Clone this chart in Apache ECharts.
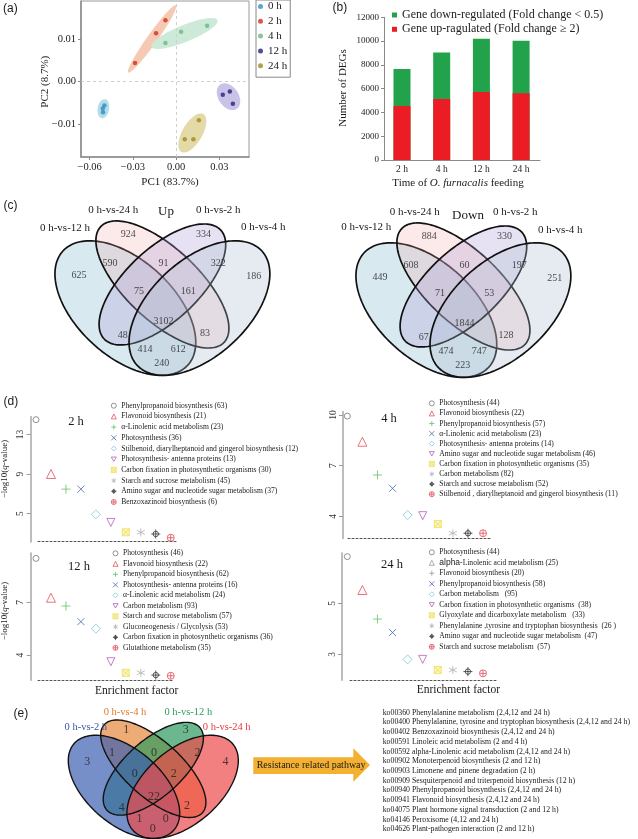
<!DOCTYPE html>
<html><head><meta charset="utf-8">
<script src="https://cdn.jsdelivr.net/npm/echarts@6/dist/echarts.min.js"></script>
<style>html,body{margin:0;padding:0;background:#fff}#c{width:638px;height:839px}</style>
</head><body><div id="c"></div>
<script>
// ---------------- DATA ----------------
// (a) PCA scores
const pcaGroups = ['0 h', '2 h', '4 h', '12 h', '24 h'];
const pcaPC1 = [[-0.0498, -0.0509, -0.0507], [-0.0285, -0.0139, -0.0074], [-0.0074, 0.0035, 0.0215], [0.0324, 0.0373, 0.0394], [0.0060, 0.0120, 0.0158]];
const pcaPC2 = [[-0.0056, -0.0063, -0.0072], [0.0044, 0.0114, 0.0145], [0.0091, 0.0118, 0.0132], [-0.0031, -0.0023, -0.0052], [-0.0136, -0.0136, -0.0091]];
const pcaXTicks = [-0.06, -0.03, 0, 0.03];
const pcaYTicks = [-0.01, 0, 0.01];
// (b) DEGs
const degTimes = ['2 h', '4 h', '12 h', '24 h'];
const degUp = [4540, 5130, 5720, 5610];
const degDown = [3110, 3920, 4480, 4420];
// (c) Venn counts  (regions: A,B,C,D,AB,BC,CD,ABC,BCD,ABCD,AC,BD,ACD,ABD,AD)
const vennSetsC = ['0 h-vs-12 h', '0 h-vs-24 h', '0 h-vs-2 h', '0 h-vs-4 h'];
const vennUpCounts = [625, 924, 334, 186, 590, 91, 322, 75, 161, 3102, 48, 83, 414, 612, 240];
const vennDownCounts = [449, 884, 330, 251, 608, 60, 197, 71, 53, 1844, 67, 128, 474, 747, 223];
// (d) enrichment
const enrichRank = [1, 2, 3, 4, 5, 6, 7, 8, 9, 10];
const enrichNames2h = ['Phenylpropanoid biosynthesis (63)', 'Flavonoid biosynthesis (21)', 'α-Linolenic acid metabolism (23)', 'Photosynthesis (36)', 'Stilbenoid, diarylheptanoid and gingerol biosynthesis (12)', 'Photosynthesis- antenna proteins (13)', 'Carbon fixation in photosynthetic organisms (30)', 'Starch and sucrose metabolism (45)', 'Amino sugar and nucleotide sugar metabolism (37)', 'Benzoxazinoid biosynthesis (6)'];
const enrichQ2h = [14.5, 9.0, 7.47, 7.47, 4.92, 4.1, 3.1, 3.1, 2.93, 2.55];
const enrichNames4h = ['Photosynthesis (44)', 'Flavonoid biosynthesis (22)', 'Phenylpropanoid biosynthesis (57)', 'α-Linolenic acid metabolism (23)', 'Photosynthesis- antenna proteins (14)', 'Amino sugar and nucleotide sugar metabolism (46)', 'Carbon fixation in photosynthetic organisms (35)', 'Carbon metabolism (82)', 'Starch and sucrose metabolism (52)', 'Stilbenoid , diarylheptanoid and gingerol biosynthesis (11)'];
const enrichQ4h = [9.94, 8.42, 6.45, 5.66, 4.08, 4.04, 3.54, 3.0, 3.0, 3.0];
const enrichNames12h = ['Photosynthesis (46)', 'Flavonoid biosynthesis (22)', 'Phenylpropanoid biosynthesis (62)', 'Photosynthesis- antenna proteins (16)', 'α-Linolenic acid metabolism (24)', 'Carbon metabolism (93)', 'Starch and sucrose metabolism (57)', 'Gluconeogenesis / Glycolysis (53)', 'Carbon fixation in photosynthetic organisms (36)', 'Glutathione metabolism (35)'];
const enrichQ12h = [9.5, 7.26, 6.79, 5.9, 5.5, 3.62, 2.99, 2.99, 2.86, 2.82];
const enrichNames24h = ['Photosynthesis (44)', '{a|alpha}-Linolenic acid metabolism (25)', 'Flavonoid biosynthesis (20)', 'Phenylpropanoid biosynthesis (58)', 'Carbon metabolism   (95)', 'Carbon fixation in photosynthetic organisms  (38)', 'Glyoxylate and dicarboxylate metabolism   (33)', 'Phenylalanine ,tyrosine and tryptophan biosynthesis  (26 )', 'Amino sugar and nucleotide sugar metabolism  (47)', 'Starch and sucrose metabolism  (57)'];
const enrichQ24h = [6.83, 5.52, 4.38, 3.85, 2.80, 2.80, 2.38, 2.38, 2.32, 2.25];
// (e) resistance related pathway venn
const vennSetsE = ['0 h-vs-2 h', '0 h-vs-4 h', '0 h-vs-12 h', '0 h-vs-24 h'];
const resistCounts = [3, 1, 3, 4, 1, 0, 2, 0, 2, 22, 4, 2, 1, 0, 0];
const resistPathways = [
  'ko00360 Phenylalanine metabolism (2,4,12 and 24 h)',
  'ko00400 Phenylalanine, tyrosine and tryptophan biosynthesis (2,4,12 and 24 h)',
  'ko00402 Benzoxazinoid biosynthesis (2,4,12 and 24 h)',
  'ko00591 Linoleic acid metabolism (2 and 4 h)',
  'ko00592 alpha-Linolenic acid metabolism (2,4,12 and 24 h)',
  'ko00902 Monoterpenoid biosynthesis (2 and 12 h)',
  'ko00903 Limonene and pinene degradation (2 h)',
  'ko00909 Sesquiterpenoid and triterpenoid biosynthesis (12 h)',
  'ko00940 Phenylpropanoid biosynthesis (2,4,12 and 24 h)',
  'ko00941 Flavonoid biosynthesis (2,4,12 and 24 h)',
  'ko04075 Plant hormone signal transduction (2 and 12 h)',
  'ko04146 Peroxisome (4,12 and 24 h)',
  'ko04626 Plant-pathogen interaction (2 and 12 h)'
];

// ---------------- LAYOUT / STYLE ----------------
const SERIF = '"Liberation Serif", "Times New Roman", serif';
const SANS = '"Liberation Sans", Arial, sans-serif';
const pcaPointColors = ['#2E8FC0', '#D03020', '#6BB58A', '#25227A', '#A08A20'];
const pcaFillColors = ['#B4DCEA', '#F6C9B3', '#CDEAD8', '#C9C4E7', '#E3DAA8'];
const vennEllipses = [
  {cx: 0.35, cy: 0.47, a: 0.35, b: 0.20, rot: 135},
  {cx: 0.50, cy: 0.57, a: 0.35, b: 0.15, rot: 135},
  {cx: 0.50, cy: 0.57, a: 0.33, b: 0.15, rot: 45},
  {cx: 0.65, cy: 0.47, a: 0.35, b: 0.20, rot: 45}
];
const vennLabelPos = [[0.162, 0.610], [0.362, 0.783], [0.666, 0.783], [0.870, 0.606], [0.288, 0.660], [0.504, 0.660], [0.726, 0.660], [0.405, 0.539], [0.605, 0.539], [0.504, 0.412], [0.339, 0.356], [0.672, 0.363], [0.430, 0.295], [0.564, 0.295], [0.497, 0.236]];
const vennFillC = ['rgba(127,181,204,0.30)', 'rgba(240,160,160,0.22)', 'rgba(176,160,216,0.30)', 'rgba(168,190,208,0.30)'];
const vennFillE = ['rgba(61,95,176,0.70)', 'rgba(229,136,58,0.70)', 'rgba(46,154,94,0.70)', 'rgba(238,74,74,0.70)'];
const vennTextE = ['#3555A8', '#E07A30', '#2E9A5E', '#E83838'];

const markerStyles = [
  {symbol: 'circle', size: 6, fill: 'transparent', stroke: '#777777'},
  {symbol: 'triangle', size: 9, fill: 'transparent', stroke: '#E8505A'},
  {symbol: 'path://M5,0L5,10M0,5L10,5', size: 9, fill: 'transparent', stroke: '#66C066'},
  {symbol: 'path://M0,0L10,10M10,0L0,10', size: 7, fill: 'transparent', stroke: '#4A66B0'},
  {symbol: 'diamond', size: 9, fill: 'transparent', stroke: '#7CC8DA'},
  {symbol: 'path://M0,0L10,0L5,8.66Z', size: 8, fill: 'transparent', stroke: '#B060B8'},
  {symbol: 'path://M0,0L10,0L10,10L0,10ZM0,0L10,10M10,0L0,10', size: 7, fill: '#FAF4B0', stroke: '#EEDD55'},
  {symbol: 'path://M5,0L5,10M0.7,2.5L9.3,7.5M9.3,2.5L0.7,7.5', size: 8, fill: 'transparent', stroke: '#B0B0B0'},
  {symbol: 'path://M5,0L5,10M0,5L10,5M8,5A3,3,0,1,1,2,5A3,3,0,1,1,8,5', size: 9, fill: 'transparent', stroke: '#333333'},
  {symbol: 'path://M5,1.5L5,8.5M1.5,5L8.5,5M9,5A4,4,0,1,1,1,5A4,4,0,1,1,9,5', size: 7, fill: 'transparent', stroke: '#E04858'}
];

const enrichPanels = [
  {names: enrichNames2h, q: enrichQ2h, grid: {left: 38, top: 416.7, width: 139, height: 125}, x: [1.134, 10.42], y: [2.15, 14.8], ticks: [5, 9, 13], off: 7.3, lg: {left: 110.8, top: 400.7, gap: 0.7}},
  {names: enrichNames4h, q: enrichQ4h, grid: {left: 348, top: 411.7, width: 142, height: 126.6}, x: [1.046, 10.46], y: [2.70, 10.2], ticks: [4, 7, 10], off: 5, lg: {left: 428.8, top: 398.3, gap: 0.1}},
  {names: enrichNames12h, q: enrichQ12h, grid: {left: 38, top: 553.3, width: 135, height: 126.7}, x: [1.134, 10.15], y: [2.58, 9.79], ticks: [4, 7], off: 7.3, lg: {left: 112.5, top: 548.3, gap: 0.5}},
  {names: enrichNames24h, q: enrichQ24h, grid: {left: 350, top: 553.3, width: 147, height: 126.7}, x: [1.179, 10.93], y: [1.99, 6.96], ticks: [3, 5], off: 8, lg: {left: 428.8, top: 547.3, gap: 0.5}, grayIcons: [1, 2]}
];

// ---------------- BUILD ----------------
const grids = [], xAxes = [], yAxes = [], series = [], legends = [], graphics = [];
function addGrid(g) { grids.push(Object.assign({outerBoundsMode: 'none', containLabel: false}, g)); return grids.length - 1; }

// (a) PCA
const gA = addGrid({left: 81, top: 1, width: 168, height: 156, show: true, borderColor: '#9a9a9a', borderWidth: 1});
const fmtPC = v => (v < 0 ? '\u2212' : '') + Math.abs(v).toFixed(2);
xAxes.push({gridIndex: gA, type: 'value', min: -0.066, max: 0.0506,
  axisLine: {show: true, onZero: false, lineStyle: {color: '#8a8a8a', width: 1.5}},
  axisTick: {show: true, customValues: pcaXTicks, length: 3, lineStyle: {color: '#8a8a8a'}},
  axisLabel: {customValues: pcaXTicks, formatter: fmtPC, fontSize: 10.5, color: '#222', margin: 5},
  splitLine: {show: false}});
yAxes.push({gridIndex: gA, type: 'value', min: -0.01776, max: 0.01903,
  axisLine: {show: true, onZero: false, lineStyle: {color: '#8a8a8a', width: 1.5}},
  axisTick: {show: true, customValues: pcaYTicks, length: 3, lineStyle: {color: '#8a8a8a'}},
  axisLabel: {customValues: pcaYTicks, formatter: fmtPC, fontSize: 10.5, color: '#222', margin: 5},
  splitLine: {show: false}});
series.push({type: 'custom', name: 'pcaEllipse', xAxisIndex: xAxes.length - 1, yAxisIndex: yAxes.length - 1, silent: true, z: 1,
  data: pcaGroups.map((g, i) => [pcaPC1[i][0], pcaPC2[i][0]]),
  renderItem: function (params, api) {
    const g = params.dataIndex;
    const pts = pcaPC1[g].map((x, i) => api.coord([x, pcaPC2[g][i]]));
    const n = pts.length; let mx = 0, my = 0;
    pts.forEach(p => { mx += p[0]; my += p[1]; }); mx /= n; my /= n;
    let sxx = 0, syy = 0, sxy = 0;
    pts.forEach(p => { const dx = p[0] - mx, dy = p[1] - my; sxx += dx * dx; syy += dy * dy; sxy += dx * dy; });
    sxx /= n; syy /= n; sxy /= n;
    const tr = (sxx + syy) / 2, d = Math.sqrt(((sxx - syy) / 2) ** 2 + sxy * sxy);
    const l1 = tr + d, l2 = Math.max(tr - d, 0), th = 0.5 * Math.atan2(2 * sxy, sxx - syy);
    const A = 1.65 * Math.sqrt(l1) + 5, B = 1.6 * Math.sqrt(l2) + 5;
    const poly = [];
    for (let i = 0; i < 72; i++) { const t = 2 * Math.PI * i / 72, x = A * Math.cos(t), y = B * Math.sin(t);
      poly.push([mx + x * Math.cos(th) - y * Math.sin(th), my + x * Math.sin(th) + y * Math.cos(th)]); }
    return {type: 'polygon', shape: {points: poly}, style: {fill: pcaFillColors[g]}};
  }});
series.push({type: 'line', name: 'zeroLines', xAxisIndex: xAxes.length - 1, yAxisIndex: yAxes.length - 1, data: [], silent: true,
  markLine: {silent: true, symbol: 'none', label: {show: false}, lineStyle: {color: '#cfcfcf', type: [3, 3], width: 1}, data: [{xAxis: 0}, {yAxis: 0}]}});
pcaGroups.forEach((g, i) => {
  series.push({type: 'scatter', name: g, xAxisIndex: xAxes.length - 1, yAxisIndex: yAxes.length - 1, z: 3,
    symbol: 'circle', symbolSize: 4.5, itemStyle: {color: pcaPointColors[i]},
    data: pcaPC1[i].map((x, k) => [x, pcaPC2[i][k]])});
});
legends.push({left: 256, top: 0, orient: 'vertical', data: pcaGroups, icon: 'circle', itemWidth: 5, itemHeight: 5, itemGap: 3.8,
  padding: [1, 3, 6, 2], borderColor: '#888', borderWidth: 1, selectedMode: false,
  textStyle: {fontSize: 11, lineHeight: 11, fontFamily: SERIF, color: '#222'}});

// (b) DEGs bars (total = up + down drawn in green, up drawn over it in red)
const gB = addGrid({left: 384, top: 17.3, width: 156, height: 142.7});
xAxes.push({gridIndex: gB, type: 'value', min: 0.547, max: 4.476,
  axisLine: {show: true, onZero: false, lineStyle: {color: '#8a8a8a'}},
  axisTick: {show: false},
  axisLabel: {customValues: [1, 2, 3, 4], formatter: v => degTimes[Math.round(v) - 1], fontSize: 9.5, color: '#222', margin: 4},
  splitLine: {show: false}});
yAxes.push({gridIndex: gB, type: 'value', min: 0, max: 12000, interval: 2000,
  axisLine: {show: true, lineStyle: {color: '#8a8a8a'}},
  axisTick: {show: true, length: 3, lineStyle: {color: '#8a8a8a'}},
  axisLabel: {fontSize: 9, color: '#222', margin: 5, formatter: v => String(v)},
  splitLine: {show: false}});
const nameUp = 'Gene up-ragulated (Fold change \u2265 2)';
const nameDown = 'Gene down-regulated (Fold change < 0.5)';
series.push({type: 'bar', name: nameDown, xAxisIndex: xAxes.length - 1, yAxisIndex: yAxes.length - 1, barWidth: 17, barGap: '-100%', z: 2,
  itemStyle: {color: '#22A24A'}, data: degDown.map((v, i) => [i + 1, degUp[i] + v])});
series.push({type: 'bar', name: nameUp, xAxisIndex: xAxes.length - 1, yAxisIndex: yAxes.length - 1, barWidth: 17, barGap: '-100%', z: 3,
  itemStyle: {color: '#EC1C24'}, data: degUp.map((v, i) => [i + 1, v])});
legends.push({left: 392, top: 9, orient: 'vertical', data: [nameDown, nameUp], icon: 'rect', itemWidth: 5, itemHeight: 5, itemGap: 2.3,
  padding: 0, selectedMode: false, textStyle: {fontSize: 12, lineHeight: 12, fontFamily: SERIF, color: '#222'}});

// Venn helper
function ellipsePoly(e, n) {
  const r = e.rot * Math.PI / 180, c = Math.cos(r), s = Math.sin(r), pts = [];
  for (let i = 0; i < n; i++) { const t = 2 * Math.PI * i / n, x = e.a * Math.cos(t), y = e.b * Math.sin(t);
    pts.push([e.cx + x * c - y * s, e.cy + x * s + y * c]); }
  return pts;
}
function addVenn(gridOpt, counts, fills, order, twoPass, numSize, lw) {
  const gi = addGrid(gridOpt);
  xAxes.push({gridIndex: gi, type: 'value', min: 0, max: 1, show: false});
  yAxes.push({gridIndex: gi, type: 'value', min: 0, max: 1, show: false});
  const xi = xAxes.length - 1, yi = yAxes.length - 1;
  const mk = (mode) => ({type: 'custom', xAxisIndex: xi, yAxisIndex: yi, silent: true, z: mode === 'stroke' ? 3 : 2,
    data: order.map(k => [vennEllipses[k].cx, vennEllipses[k].cy]),
    renderItem: function (params, api) {
      const k = order[params.dataIndex];
      const pts = ellipsePoly(vennEllipses[k], 160).map(p => api.coord(p));
      const style = mode === 'fill' ? {fill: fills[k], stroke: null}
        : mode === 'stroke' ? {fill: null, stroke: '#111', lineWidth: lw}
        : {fill: fills[k], stroke: '#111', lineWidth: lw};
      return {type: 'polygon', shape: {points: pts}, style: style};
    }});
  if (twoPass) { series.push(mk('fill')); series.push(mk('stroke')); } else series.push(mk('both'));
  series.push({type: 'scatter', xAxisIndex: xi, yAxisIndex: yi, silent: true, z: 5, symbolSize: 1, itemStyle: {color: 'transparent'},
    label: {show: true, position: 'inside', formatter: p => String(p.value[2]), fontSize: numSize, fontFamily: SERIF, color: '#222'},
    data: vennLabelPos.map((p, i) => [p[0], p[1], counts[i]])});
}
addVenn({left: 38.9, top: 183, width: 247, height: 236}, vennUpCounts, vennFillC, [0, 1, 2, 3], false, 10, 1.7);
addVenn({left: 339.9, top: 185, width: 247, height: 236}, vennDownCounts, vennFillC, [0, 1, 2, 3], false, 10, 1.7);
addVenn({left: 55.6, top: 690.9, width: 195.4, height: 181}, resistCounts, vennFillE, [1, 2, 0, 3], true, 12, 1.4);

// (d) enrichment panels
const legendLabelMap = {};
enrichPanels.forEach((P, pi) => {
  const gi = addGrid(P.grid);
  xAxes.push({gridIndex: gi, type: 'value', min: P.x[0], max: P.x[1],
    axisLine: {show: true, onZero: false, lineStyle: {color: '#555', type: [2, 2], width: 1}},
    axisTick: {show: false}, axisLabel: {show: false}, splitLine: {show: false}});
  yAxes.push({gridIndex: gi, type: 'value', min: P.y[0], max: P.y[1], offset: P.off,
    axisLine: {show: true, onZero: false, lineStyle: {color: '#bdbdbd', width: 2}},
    axisTick: {show: true, customValues: P.ticks, length: 4, lineStyle: {color: '#999'}},
    axisLabel: {customValues: P.ticks, rotate: 90, fontSize: 9.5, color: '#333', margin: 5},
    splitLine: {show: false}});
  const xi = xAxes.length - 1, yi = yAxes.length - 1;
  const ldata = [];
  P.names.forEach((nm, i) => {
    const key = 'd' + pi + '-' + i;
    legendLabelMap[key] = nm;
    const m = markerStyles[i];
    series.push({type: 'scatter', name: key, xAxisIndex: xi, yAxisIndex: yi, clip: false, z: 4,
      symbol: m.symbol, symbolSize: m.size, itemStyle: {color: m.fill, borderColor: m.stroke, borderWidth: 1},
      data: [[enrichRank[i], P.q[i]]]});
    const gray = P.grayIcons && P.grayIcons.indexOf(i) >= 0;
    ldata.push({name: key, icon: m.symbol, itemStyle: {color: m.fill, borderColor: gray ? '#999' : m.stroke, borderWidth: 1}});
  });
  legends.push({left: P.lg.left, top: P.lg.top, orient: 'vertical', data: ldata, itemWidth: 5, itemHeight: 5, itemGap: P.lg.gap,
    padding: 0, selectedMode: false, formatter: n => legendLabelMap[n],
    textStyle: {fontSize: 7.6, lineHeight: 10, fontFamily: SERIF, color: '#222', rich: {a: {fontFamily: SANS, fontSize: 8.5, lineHeight: 10, color: '#222'}}}});
});

// ---------------- TEXT / DECORATION ----------------
function T(x, y, text, size, o) {
  o = o || {};
  return {type: 'text', x: x, y: y, rotation: o.rot || 0, silent: true, z: 10,
    style: {text: text, fontSize: size, fontFamily: o.font || SERIF, fill: o.color || '#1a1a1a', fontWeight: o.weight || 'normal',
      align: o.align || 'center', verticalAlign: 'middle', lineHeight: o.lh, rich: o.rich}};
}
const italicRich = s => ({i: {fontStyle: 'italic', fontSize: s, fontFamily: SERIF, fill: '#1a1a1a'}});
graphics.push(T(3, 8.8, '(a)', 12, {font: SANS, align: 'left'}));
graphics.push(T(332.5, 8, '(b)', 12, {font: SANS, align: 'left'}));
graphics.push(T(3.5, 206, '(c)', 12, {font: SANS, align: 'left'}));
graphics.push(T(3.5, 402, '(d)', 12, {font: SANS, align: 'left'}));
graphics.push(T(13.5, 714, '(e)', 12, {font: SANS, align: 'left'}));
// (a)
graphics.push(T(170, 181.7, 'PC1 (83.7%)', 11));
graphics.push(T(45, 81.7, 'PC2 (8.7%)', 11, {rot: Math.PI / 2}));
// (b)
graphics.push(T(342.7, 88, 'Number of DEGs', 11, {rot: Math.PI / 2}));
graphics.push(T(458, 182.7, 'Time of {i|O. furnacalis} feeding', 11, {rich: italicRich(11)}));
// (c)
const vennLabelC = [[65, 227.7], [113.3, 210], [218.3, 210], [263.3, 227.3]];
const vennLabelC2 = [[366.3, 227.3], [414.7, 211.7], [515.3, 212.3], [560.3, 230]];
vennSetsC.forEach((s, i) => { graphics.push(T(vennLabelC[i][0], vennLabelC[i][1], s, 11)); graphics.push(T(vennLabelC2[i][0], vennLabelC2[i][1], s, 11)); });
graphics.push(T(166, 211.7, 'Up', 13));
graphics.push(T(468, 215.7, 'Down', 13));
// (d)
[[76, 421.7, '2 h'], [389, 418.3, '4 h'], [79, 566.7, '12 h'], [392, 564.3, '24 h']].forEach(t => graphics.push(T(t[0], t[1], t[2], 12.5)));
graphics.push(T(5, 469, '\u2212log10({i|q}-value)', 9, {rot: Math.PI / 2, rich: italicRich(9)}));
graphics.push(T(5, 611, '\u2212log10({i|q}-value)', 9, {rot: Math.PI / 2, rich: italicRich(9)}));
graphics.push(T(136.7, 690.7, 'Enrichment factor', 11.5));
graphics.push(T(458.3, 690, 'Enrichment factor', 11.5));
// (e)
const vennLabelE = [[85.8, 727.7], [125, 712.3], [188.3, 712.3], [226.7, 727.7]];
vennSetsE.forEach((s, i) => graphics.push(T(vennLabelE[i][0], vennLabelE[i][1], s, 10.5, {color: vennTextE[i]})));
graphics.push({type: 'polygon', silent: true, z: 8, shape: {points: [[253.3, 757.3], [353.3, 757.3], [353.3, 748.3], [370, 765], [353.3, 781.7], [353.3, 774], [253.3, 774]]}, style: {fill: '#F4B030'}});
graphics.push(T(256.7, 765.5, 'Resistance related pathway', 10, {align: 'left'}));
graphics.push({type: 'text', x: 382.7, y: 707.8, silent: true, z: 10,
  style: {text: resistPathways.join('\n'), fontSize: 7.8, lineHeight: 9.72, fontFamily: SERIF, fill: '#1a1a1a', align: 'left', verticalAlign: 'top'}});

const chart = echarts.init(document.getElementById('c'), null, {renderer: 'canvas', width: 638, height: 839});
chart.setOption({
  animation: false,
  backgroundColor: '#ffffff',
  textStyle: {fontFamily: SERIF},
  tooltip: {show: false},
  grid: grids, xAxis: xAxes, yAxis: yAxes, legend: legends, series: series, graphic: graphics
});
</script></body></html>
